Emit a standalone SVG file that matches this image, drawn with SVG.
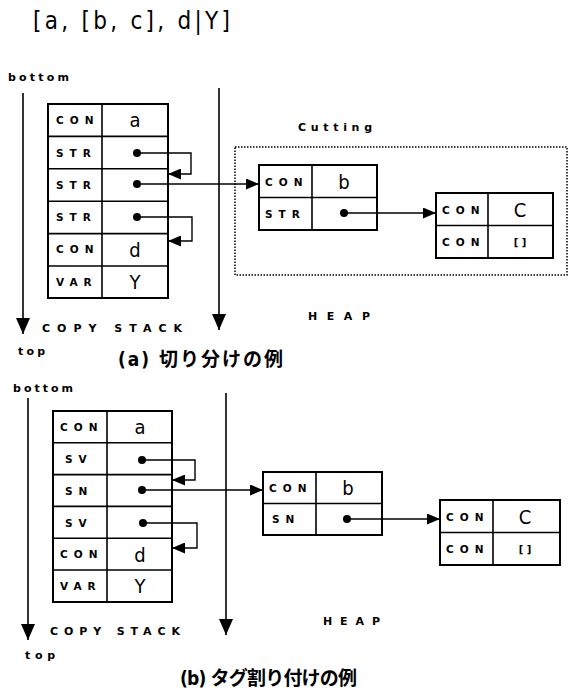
<svg xmlns="http://www.w3.org/2000/svg" width="572" height="693" viewBox="0 0 572 693">
<style>
.cell{fill:#fff;stroke:#000;stroke-width:2}
.div{stroke:#000;stroke-width:1.6}
.lab{font-family:"DejaVu Sans","Liberation Sans",sans-serif;font-weight:bold;font-size:10.5px;letter-spacing:6px}
.val{font-family:"DejaVu Sans Condensed","DejaVu Sans",sans-serif;font-size:20px;text-anchor:middle}
.nil{font-family:"DejaVu Sans","Liberation Sans",sans-serif;font-weight:bold;font-size:10px;text-anchor:middle}
.ptr{fill:none;stroke:#000;stroke-width:1.4}
.axis{fill:none;stroke:#000;stroke-width:1.6}
.dot{fill:#000}
.word{font-family:"DejaVu Sans","Liberation Sans",sans-serif;font-weight:bold;font-size:11px}
.cap{font-family:"DejaVu Sans Condensed","Noto Sans CJK JP",sans-serif;font-size:19px;font-weight:bold}
</style>
<defs>
<marker id="ah" markerUnits="userSpaceOnUse" markerWidth="13" markerHeight="11" refX="13" refY="5.5" orient="auto"><path d="M0,0 L13,5.5 L0,11 z" fill="#000"/></marker>
<marker id="ax" markerUnits="userSpaceOnUse" markerWidth="16" markerHeight="14" refX="16" refY="7" orient="auto"><path d="M0,0 L16,7 L0,14 z" fill="#000"/></marker>
</defs>

<text x="33" y="29" font-family="DejaVu Sans Condensed,DejaVu Sans,sans-serif" font-size="24" textLength="197" lengthAdjust="spacing">[a, [b, c], d|Y]</text>

<!-- (a) -->
<g id="labels-a">
<text class="word" x="8" y="81" textLength="61" lengthAdjust="spacing">bottom</text>
<text class="word" x="42" y="332" textLength="140" lengthAdjust="spacing">COPY STACK</text>
<text class="word" x="308" y="320" textLength="62" lengthAdjust="spacing">HEAP</text>
<text class="word" x="18" y="355" textLength="27" lengthAdjust="spacing">top</text>
<text class="word" x="298" y="131" textLength="74" lengthAdjust="spacing">Cutting</text>
<text class="cap" x="118" y="366" textLength="165" lengthAdjust="spacing">(a) 切り分けの例</text>
</g>
<rect id="cutting-box" x="235" y="147" width="332" height="128" fill="none" stroke="#000" stroke-width="1.5" stroke-dasharray="1.5,1.5"/>

<g id="stack-a">
<rect class="cell" x="48" y="104" width="120" height="194"/>
<line class="div" x1="102" y1="104" x2="102" y2="298"/>
<line class="div" x1="48" y1="136.4" x2="168" y2="136.4"/>
<line class="div" x1="48" y1="168.8" x2="168" y2="168.8"/>
<line class="div" x1="48" y1="201.2" x2="168" y2="201.2"/>
<line class="div" x1="48" y1="233.6" x2="168" y2="233.6"/>
<line class="div" x1="48" y1="266" x2="168" y2="266"/>
<text class="lab" x="56" y="124">CON</text><text class="val" x="135" y="127">a</text>
<text class="lab" x="56" y="157">STR</text>
<text class="lab" x="56" y="189">STR</text>
<text class="lab" x="56" y="221">STR</text>
<text class="lab" x="56" y="253">CON</text><text class="val" x="135" y="257">d</text>
<text class="lab" x="56" y="286">VAR</text><text class="val" x="135" y="289">Y</text>
</g>

<g id="heap-a-b">
<rect class="cell" x="259" y="165" width="118" height="65"/>
<line class="div" x1="312" y1="165" x2="312" y2="230"/>
<line class="div" x1="259" y1="197.5" x2="377" y2="197.5"/>
<text class="lab" x="265" y="186">CON</text><text class="val" x="344" y="189">b</text>
<text class="lab" x="265" y="218">STR</text>
</g>
<g id="heap-a-c">
<rect class="cell" x="436" y="193" width="117" height="65"/>
<line class="div" x1="488" y1="193" x2="488" y2="258"/>
<line class="div" x1="436" y1="225.5" x2="553" y2="225.5"/>
<text class="lab" x="442" y="214">CON</text><text class="val" x="520" y="217">C</text>
<text class="lab" x="442" y="246">CON</text><text class="nil" x="520" y="246">[ ]</text>
</g>

<!-- (b) -->
<g id="labels-b">
<text class="word" x="13" y="392" textLength="60" lengthAdjust="spacing">bottom</text>
<text class="word" x="50" y="635" textLength="130" lengthAdjust="spacing">COPY STACK</text>
<text class="word" x="323" y="625" textLength="57" lengthAdjust="spacing">HEAP</text>
<text class="word" x="25" y="659" textLength="30" lengthAdjust="spacing">top</text>
<text class="cap" x="180" y="685" textLength="177" lengthAdjust="spacing">(b) タグ割り付けの例</text>
</g>

<g id="stack-b">
<rect class="cell" x="53" y="411" width="119" height="191"/>
<line class="div" x1="107" y1="411" x2="107" y2="602"/>
<line class="div" x1="53" y1="442.8" x2="172" y2="442.8"/>
<line class="div" x1="53" y1="474.6" x2="172" y2="474.6"/>
<line class="div" x1="53" y1="506.4" x2="172" y2="506.4"/>
<line class="div" x1="53" y1="538.2" x2="172" y2="538.2"/>
<line class="div" x1="53" y1="570" x2="172" y2="570"/>
<text class="lab" x="60" y="431">CON</text><text class="val" x="140" y="434">a</text>
<text class="lab" x="65" y="463">SV</text>
<text class="lab" x="65" y="495">SN</text>
<text class="lab" x="65" y="527">SV</text>
<text class="lab" x="60" y="558">CON</text><text class="val" x="140" y="562">d</text>
<text class="lab" x="60" y="590">VAR</text><text class="val" x="140" y="593">Y</text>
</g>

<g id="heap-b-b">
<rect class="cell" x="263" y="472" width="119" height="63"/>
<line class="div" x1="316" y1="472" x2="316" y2="535"/>
<line class="div" x1="263" y1="503.5" x2="382" y2="503.5"/>
<text class="lab" x="269" y="492">CON</text><text class="val" x="348" y="495">b</text>
<text class="lab" x="272" y="523">SN</text>
</g>
<g id="heap-b-c">
<rect class="cell" x="440" y="500" width="120" height="65"/>
<line class="div" x1="493" y1="500" x2="493" y2="565"/>
<line class="div" x1="440" y1="532.5" x2="560" y2="532.5"/>
<text class="lab" x="446" y="521">CON</text><text class="val" x="525" y="524">C</text>
<text class="lab" x="446" y="553">CON</text><text class="nil" x="525" y="553">[ ]</text>
</g>

<g id="connectors">
<line class="axis" x1="23" y1="93" x2="23" y2="334" marker-end="url(#ax)"/>
<line class="axis" x1="219" y1="88" x2="219" y2="330" marker-end="url(#ax)"/>
<line class="axis" x1="28" y1="398" x2="28" y2="640" marker-end="url(#ax)"/>
<line class="axis" x1="226" y1="393" x2="226" y2="635" marker-end="url(#ax)"/>
<circle class="dot" cx="137" cy="153" r="4"/>
<path class="ptr" d="M137,153 H191 V174 H168" marker-end="url(#ah)"/>
<circle class="dot" cx="137" cy="184" r="4"/>
<path class="ptr" d="M137,184 H259" marker-end="url(#ah)"/>
<circle class="dot" cx="137" cy="217" r="4"/>
<path class="ptr" d="M137,217 H192 V241 H168" marker-end="url(#ah)"/>
<circle class="dot" cx="344" cy="213" r="4"/>
<path class="ptr" d="M344,213 H436" marker-end="url(#ah)"/>
<circle class="dot" cx="142" cy="460" r="4"/>
<path class="ptr" d="M142,460 H195 V480 H172" marker-end="url(#ah)"/>
<circle class="dot" cx="142" cy="490" r="4"/>
<path class="ptr" d="M142,490 H263" marker-end="url(#ah)"/>
<circle class="dot" cx="143" cy="523" r="4"/>
<path class="ptr" d="M143,523 H197 V548 H172" marker-end="url(#ah)"/>
<circle class="dot" cx="347" cy="519" r="4"/>
<path class="ptr" d="M347,519 H440" marker-end="url(#ah)"/>
</g>
</svg>
